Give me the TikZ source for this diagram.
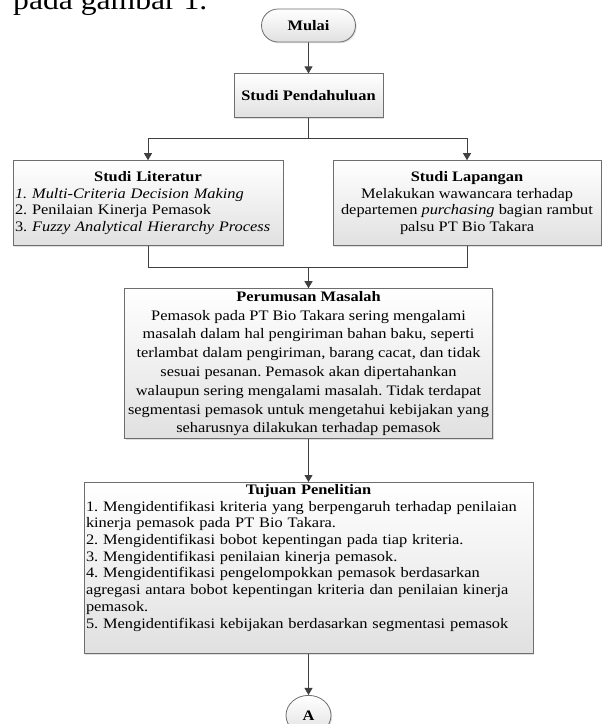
\documentclass[tikz,border=0pt]{standalone}
\usepackage{fontspec}
\setmainfont{Liberation Serif}[FakeStretch=1.13]
\usepackage{tikz}
\usetikzlibrary{arrows.meta, positioning, shapes.geometric, shapes.misc, shadows}
\definecolor{edgegray}{HTML}{6E6E6E}
\definecolor{linkgray}{HTML}{404040}
\frenchspacing

\begin{document}
\begin{tikzpicture}[node distance=42pt, every node/.style={font=\fontsize{14.5}{16.7}\selectfont}]

\useasboundingbox (0,0) rectangle (604pt,-724pt);
\clip (0,0) rectangle (604pt,-724pt);

% Styles
\tikzstyle{box} = [draw=edgegray, line width=0.8pt, top color=white, bottom color=black!12, inner xsep=2pt, inner ysep=2pt, drop shadow={shadow xshift=1.2pt, shadow yshift=-1.2pt, opacity=0.25}]
\tikzstyle{terminal} = [box, rounded rectangle]
\tikzstyle{link} = [draw=linkgray, line width=0.9pt]
\tikzstyle{arrow} = [link, -{Triangle[width=8pt, length=7pt]}]

% Page text
\node[anchor=base west, font=\fontsize{28}{30}\selectfont, inner sep=0pt] (pagetext) at (13pt,-9.3pt) {pada gambar 1.};

% Nodes
\node[terminal, minimum width=98pt, minimum height=33pt] (mulai) at (308.5pt,-25.5pt) {\textbf{Mulai}};
\node[box, below=31pt of mulai, minimum width=149pt, minimum height=44pt] (pend) {\textbf{Studi Pendahuluan}};

\node[box, below=42pt of pend, xshift=-160.5pt, text width=266pt, align=left, minimum height=85pt] (lit) {{\centering\bfseries Studi Literatur\par}\textit{1. Multi-Criteria Decision Making}\\2. Penilaian Kinerja Pemasok\\3. \textit{Fuzzy Analytical Hierarchy Process}};
\node[box, below=42pt of pend, xshift=158.5pt, minimum width=268pt, minimum height=85pt, align=center] (lap) {\textbf{Studi Lapangan}\\Melakukan wawancara terhadap\\departemen \textit{purchasing} bagian rambut\\palsu PT Bio Takara};

\node[box, below=170pt of pend, minimum width=368pt, minimum height=150pt, align=center, inner ysep=1pt, font=\fontsize{14.5}{18.8}\selectfont] (per) {\textbf{Perumusan Masalah}\\Pemasok pada PT Bio Takara sering mengalami\\masalah dalam hal pengiriman bahan baku, seperti\\terlambat dalam pengiriman, barang cacat, dan tidak\\sesuai pesanan. Pemasok akan dipertahankan\\walaupun sering mengalami masalah. Tidak terdapat\\segmentasi pemasok untuk mengetahui kebijakan yang\\seharusnya dilakukan terhadap pemasok};

\node[box, below=43pt of per, text width=445pt, align=left, minimum height=171pt] (tuj) {{\centering\bfseries Tujuan Penelitian\par}1. Mengidentifikasi kriteria yang berpengaruh terhadap penilaian\\kinerja pemasok pada PT Bio Takara.\\2. Mengidentifikasi bobot kepentingan pada tiap kriteria.\\3. Mengidentifikasi penilaian kinerja pemasok.\\4. Mengidentifikasi pengelompokkan pemasok berdasarkan\\agregasi antara bobot kepentingan kriteria dan penilaian kinerja\\pemasok.\\5. Mengidentifikasi kebijakan berdasarkan segmentasi pemasok\rule[-23.5pt]{0pt}{23.5pt}};

\node[box, ellipse, below=41pt of tuj, minimum width=45pt, minimum height=40pt, inner sep=0pt] (conn) {\textbf{A}};

% Arrows
\coordinate[below=20pt of pend] (split);
\coordinate[above=21pt of per] (join);

\draw[arrow] (mulai) -- (pend);
\draw[link] (pend) -- (split);
\draw[arrow] (split) -| (lit);
\draw[arrow] (split) -| (lap);
\draw[link] (lit) |- (join);
\draw[link] (lap) |- (join);
\draw[arrow] (join) -- (per);
\draw[arrow] (per) -- (tuj);
\draw[arrow] (tuj) -- (conn);

\end{tikzpicture}
\end{document}
